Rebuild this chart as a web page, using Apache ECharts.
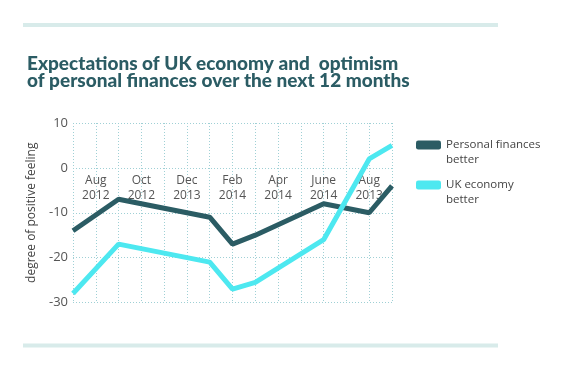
<!DOCTYPE html>
<html>
<head>
<meta charset="utf-8">
<style>html,body{margin:0;padding:0;background:#fff}#c{width:570px;height:371px}</style>
<script src="https://cdn.jsdelivr.net/npm/echarts@6/dist/echarts.min.js"></script>
</head>
<body>
<div id="c"></div>
<script>
var categories = ['', 'Aug\n2012', '', 'Oct\n2012', '', 'Dec\n2013', '', 'Feb\n2014', '', 'Apr\n2014', '', 'June\n2014', '', 'Aug\n2013', ''];
var personalFinances = [-14, null, -7, null, null, null, -11, -17, -15, null, null, -8, null, -10, -4];
var ukEconomy = [-28, null, -17, null, null, null, -21, -27, -25.5, null, null, -16, null, 2, 5];
var yTicks = [-30, -20, -10, 0, 10];

var chart = echarts.init(document.getElementById('c'));
var gridColor = '#9fd0d5';
var plotTop = 123, plotBottom = 302.5;
var zeroOffset = (plotBottom - plotTop) * (yTicks[yTicks.length - 1] - 0) / (yTicks[yTicks.length - 1] - yTicks[0]);
chart.setOption({
  animation: false,
  title: {
    text: 'Expectations of UK economy and  optimism\nof personal finances over the next 12 months',
    left: 22, top: 50,
    textStyle: { fontFamily: 'Lato', fontWeight: 900, fontSize: 19, lineHeight: 17, color: '#2b5c64' }
  },
  graphic: [
    { type: 'rect', shape: { x: 23, y: 23, width: 475, height: 4 }, style: { fill: '#d8ebea' } },
    { type: 'rect', shape: { x: 23, y: 343.5, width: 475, height: 4 }, style: { fill: '#d8ebea' } }
  ],
  legend: {
    orient: 'vertical', left: 411, top: 117.5,
    itemWidth: 25, itemHeight: 9, itemGap: -5,
    icon: 'roundRect',
    formatter: function (name) { return '\n' + name; },
    textStyle: { fontFamily: 'Open Sans', fontSize: 11.5, lineHeight: 15, color: '#444' },
    data: ['Personal finances\nbetter', 'UK economy\nbetter']
  },
  grid: { left: 73, right: 178, top: plotTop, bottom: 371 - plotBottom },
  xAxis: {
    type: 'category', data: categories, boundaryGap: false,
    position: 'top', offset: -zeroOffset,
    axisLine: { show: false }, axisTick: { show: false, interval: 0 },
    axisLabel: { inside: true, interval: 0, margin: 5, fontFamily: 'Open Sans', fontSize: 12, lineHeight: 15, color: '#555' },
    splitLine: { show: true, interval: 0, lineStyle: { color: gridColor, type: [1, 2], width: 1 } }
  },
  yAxis: {
    type: 'value', min: yTicks[0], max: yTicks[yTicks.length - 1], interval: 10,
    name: 'degree of positive feeling', nameLocation: 'middle', nameGap: 30,
    nameTextStyle: { fontFamily: 'Open Sans', fontSize: 12, color: '#444' },
    axisLine: { show: false }, axisTick: { show: false },
    axisLabel: { margin: 5, fontFamily: 'Open Sans', fontSize: 13, color: '#555' },
    splitLine: { show: true, lineStyle: { color: gridColor, type: [1, 2], width: 1 } }
  },
  series: [
    { name: 'Personal finances\nbetter', type: 'line', data: personalFinances, connectNulls: true,
      symbol: 'none', lineStyle: { width: 5, color: '#2b5c64' }, itemStyle: { color: '#2b5c64' } },
    { name: 'UK economy\nbetter', type: 'line', data: ukEconomy, connectNulls: true,
      symbol: 'none', lineStyle: { width: 5, color: '#4de8f0' }, itemStyle: { color: '#4de8f0' } }
  ]
});
</script>
</body>
</html>
